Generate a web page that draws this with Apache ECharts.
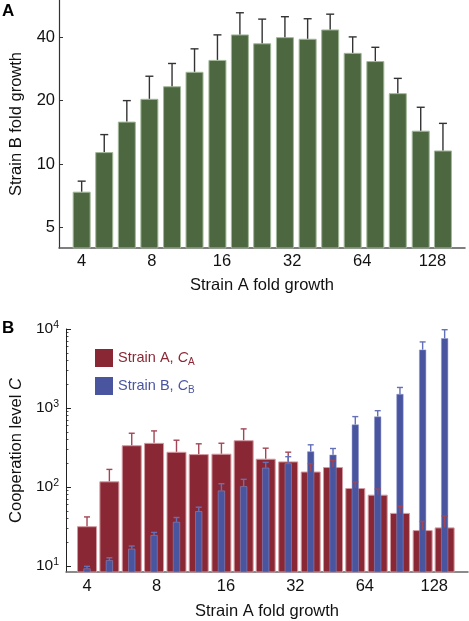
<!DOCTYPE html>
<html><head><meta charset="utf-8">
<script src="https://cdn.jsdelivr.net/npm/echarts@6/dist/echarts.min.js"></script>
<style>html,body{margin:0;padding:0;background:#fff}#c{width:469px;height:621px}</style>
</head><body><div id="c"></div>
<script>
// Strain A fold growth (x positions of bars, both panels)
const foldGrowthA = [4, 5, 6.25, 7.81, 9.77, 12.2, 15.3, 19.1, 23.8, 29.8, 37.3, 46.6, 58.2, 72.8, 90.9, 114, 142];
// Panel A: Strain B fold growth (bar height) and top of error bar
const strainBGrowth = [7.4, 11.4, 15.9, 20.4, 23.4, 27.4, 31.2, 41.2, 37.4, 40.0, 39.3, 43.5, 33.7, 30.8, 21.7, 14.4, 11.6];
const strainBGrowthErrTop = [8.3, 13.8, 20.0, 26.1, 30.0, 35.2, 41.0, 52.2, 48.7, 50.0, 48.9, 51.4, 40.1, 35.8, 25.5, 18.6, 15.6];
// Panel B: cooperation levels
const coopA = [31.9, 118, 338, 362, 279, 261, 264, 391, 228, 211, 157, 179, 97, 80, 47, 28.5, 30.8];
const coopAErrTop = [41.8, 167, 479, 513, 391, 352, 358, 544, 310, 276, 197, 217, 116, 94, 57, 36.6, 43];
const coopB = [9.3, 11.8, 16.5, 24.6, 36.1, 49.3, 90, 102, 175, 199, 282, 256, 617, 778, 1503, 5480, 7640];
const coopBErrTop = [9.9, 12.7, 17.9, 26.6, 41.1, 55.5, 110, 125, 205, 242, 342, 307, 778, 925, 1820, 6860, 9800];
// Tick labels
const xTickLabels = [4, 8, 16, 32, 64, 128];
const yTickLabelsA = [5, 10, 20, 40];
const yTickExpB = [1, 2, 3, 4];
const minorTicksB = [20, 30, 40, 50, 60, 70, 80, 90, 200, 300, 400, 500, 600, 700, 800, 900, 2000, 3000, 4000, 5000, 6000, 7000, 8000, 9000];

const L2 = Math.log2, L10 = Math.log10;
const FONT = '"Liberation Sans", Arial, Helvetica, sans-serif';
const TXT = '#111';

function errRenderer(capHalf, color, width) {
  return function (params, api) {
    const x = api.value(0), y0 = api.value(1), y1 = api.value(2);
    const p0 = api.coord([x, y0]);
    const p1 = api.coord([x, y1]);
    return {
      type: 'group',
      children: [
        { type: 'line', shape: { x1: p0[0], y1: p0[1], x2: p1[0], y2: p1[1] }, style: { stroke: color, lineWidth: width } },
        { type: 'line', shape: { x1: p1[0] - capHalf, y1: p1[1], x2: p1[0] + capHalf, y2: p1[1] }, style: { stroke: color, lineWidth: width } }
      ]
    };
  };
}

const xLabelFmt = v => String(Math.round(Math.pow(2, v)));

const chart = echarts.init(document.getElementById('c'), null, { renderer: 'canvas' });
const option = {
  animation: false,
  backgroundColor: '#fff',
  textStyle: { fontFamily: FONT },
  graphic: [
    { type: 'text', left: 2, top: 3, style: { text: 'A', font: 'bold 17px ' + FONT, fill: '#000' } },
    { type: 'text', left: 2, top: 320, style: { text: 'B', font: 'bold 17px ' + FONT, fill: '#000' } }
  ],
  grid: [
    { left: 53, right: 4, top: 0, bottom: 373 },
    { left: 57, right: 1, top: 329, bottom: 48 }
  ],
  legend: {
    orient: 'vertical', left: 95, top: 349, padding: 0, itemWidth: 18, itemHeight: 18, itemGap: 10,
    icon: 'rect', selectedMode: false,
    data: [
      { name: 'Strain A', itemStyle: { borderWidth: 0 } },
      { name: 'Strain B', itemStyle: { borderWidth: 0 } }
    ],
    formatter: n => n === 'Strain A' ? '{a|Strain A, }{ai|C}{as|A}' : '{b|Strain B, }{bi|C}{bs|B}',
    textStyle: {
      fontFamily: FONT,
      rich: {
        a: { color: '#892834', fontSize: 14.5, lineHeight: 18, fontFamily: FONT },
        ai: { color: '#892834', fontSize: 14.5, lineHeight: 18, fontStyle: 'italic', fontFamily: FONT },
        as: { color: '#892834', fontSize: 10, lineHeight: 10, verticalAlign: 'bottom', fontFamily: FONT },
        b: { color: '#4a55a0', fontSize: 14.5, lineHeight: 18, fontFamily: FONT },
        bi: { color: '#4a55a0', fontSize: 14.5, lineHeight: 18, fontStyle: 'italic', fontFamily: FONT },
        bs: { color: '#4a55a0', fontSize: 10, lineHeight: 10, verticalAlign: 'bottom', fontFamily: FONT }
      }
    }
  },
  xAxis: [
    {
      type: 'value', gridIndex: 0, min: 1.677, max: 7.464,
      axisLine: { show: true, onZero: false, lineStyle: { color: '#555', width: 1.5 } },
      axisTick: { show: false }, splitLine: { show: false },
      axisLabel: { customValues: xTickLabels.map(L2), formatter: xLabelFmt, fontSize: 16.5, color: TXT, margin: 5, fontFamily: FONT },
      name: 'Strain A fold growth', nameLocation: 'middle', nameGap: 29,
      nameTextStyle: { fontSize: 16.5, color: TXT, fontFamily: FONT }
    },
    {
      type: 'value', gridIndex: 1, min: 1.697, max: 7.486,
      axisLine: { show: true, onZero: false, lineStyle: { color: '#666', width: 1.5 } },
      axisTick: { show: false }, splitLine: { show: false },
      axisLabel: { customValues: xTickLabels.map(L2), formatter: xLabelFmt, fontSize: 16.5, color: TXT, margin: 6, fontFamily: FONT },
      name: 'Strain A fold growth', nameLocation: 'middle', nameGap: 31,
      nameTextStyle: { fontSize: 16.5, color: TXT, fontFamily: FONT }
    },
    {
      type: 'value', gridIndex: 1, min: 1.697, max: 7.486, show: false, splitLine: { show: false }
    }
  ],
  yAxis: [
    {
      type: 'value', gridIndex: 0, min: 2, max: 5.907,
      axisLine: { show: true, onZero: false, lineStyle: { color: '#333', width: 1.2 } },
      axisTick: { show: true, inside: true, length: 4, customValues: yTickLabelsA.map(L2), lineStyle: { color: '#333' } },
      splitLine: { show: false },
      axisLabel: { customValues: yTickLabelsA.map(L2), formatter: v => String(Math.round(Math.pow(2, v))), fontSize: 16.5, color: TXT, margin: 4, fontFamily: FONT },
      name: 'Strain B fold growth', nameLocation: 'middle', nameGap: 34,
      nameTextStyle: { fontSize: 16.5, color: TXT, fontFamily: FONT }
    },
    {
      type: 'value', gridIndex: 1, min: 0.924, max: 4, position: 'left',
      axisLine: { show: true, onZero: false, lineStyle: { color: '#222', width: 1 } },
      axisTick: { show: true, inside: true, length: 5, customValues: yTickExpB, lineStyle: { color: '#222' } },
      splitLine: { show: false },
      axisLabel: {
        customValues: yTickExpB, formatter: v => '{n|10}{s|' + Math.round(v) + '}', margin: 7, color: TXT,
        rich: {
          n: { fontSize: 15.5, lineHeight: 18, color: TXT, fontFamily: FONT },
          s: { fontSize: 10.5, lineHeight: 10, verticalAlign: 'top', color: TXT, fontFamily: FONT }
        }
      },
      name: '{t|Cooperation level }{ti|C}', nameLocation: 'middle', nameGap: 39,
      nameTextStyle: {
        color: TXT,
        rich: {
          t: { fontSize: 16.5, color: TXT, fontFamily: FONT },
          ti: { fontSize: 16.5, color: TXT, fontStyle: 'italic', fontFamily: FONT }
        }
      }
    },
    {
      type: 'value', gridIndex: 1, min: 0.924, max: 4, position: 'left', offset: 0,
      axisLine: { show: false, onZero: false }, axisLabel: { show: false }, splitLine: { show: false },
      axisTick: { show: true, inside: true, length: 2.5, customValues: minorTicksB.map(L10), lineStyle: { color: '#222', width: 0.8 } }
    }
  ],
  series: [
    {
      type: 'bar', xAxisIndex: 0, yAxisIndex: 0, barWidth: 18, z: 2,
      itemStyle: { color: '#4d6841', borderColor: '#a3b89a', borderWidth: 1 },
      data: foldGrowthA.map((f, i) => [L2(f), L2(strainBGrowth[i])])
    },
    {
      type: 'custom', xAxisIndex: 0, yAxisIndex: 0, z: 3,
      renderItem: errRenderer(4, '#333', 1.4), encode: { x: 0, y: [1, 2] },
      data: foldGrowthA.map((f, i) => [L2(f), L2(strainBGrowth[i]), L2(strainBGrowthErrTop[i])])
    },
    {
      name: 'Strain A', type: 'bar', xAxisIndex: 1, yAxisIndex: 1, barWidth: 20, z: 2,
      itemStyle: { color: '#892834', borderColor: '#d49aa2', borderWidth: 1 },
      data: foldGrowthA.map((f, i) => [L2(f), L10(coopA[i])])
    },
    {
      name: 'Strain B', type: 'bar', xAxisIndex: 2, yAxisIndex: 1, barWidth: 7, z: 3,
      itemStyle: { color: '#4a55a0', borderColor: '#8e96cc', borderWidth: 0.5 },
      data: foldGrowthA.map((f, i) => [L2(f), L10(coopB[i])])
    },
    {
      type: 'custom', xAxisIndex: 1, yAxisIndex: 1, z: 4,
      renderItem: errRenderer(3, '#a24655', 1.4), encode: { x: 0, y: [1, 2] },
      data: foldGrowthA.map((f, i) => [L2(f), L10(coopA[i]), L10(coopAErrTop[i])])
    },
    {
      type: 'custom', xAxisIndex: 1, yAxisIndex: 1, z: 5,
      renderItem: errRenderer(3, '#6470b8', 1.4), encode: { x: 0, y: [1, 2] },
      data: foldGrowthA.map((f, i) => [L2(f), L10(coopB[i]), L10(coopBErrTop[i])])
    }
  ]
};
chart.setOption(option);
</script>
</body></html>
